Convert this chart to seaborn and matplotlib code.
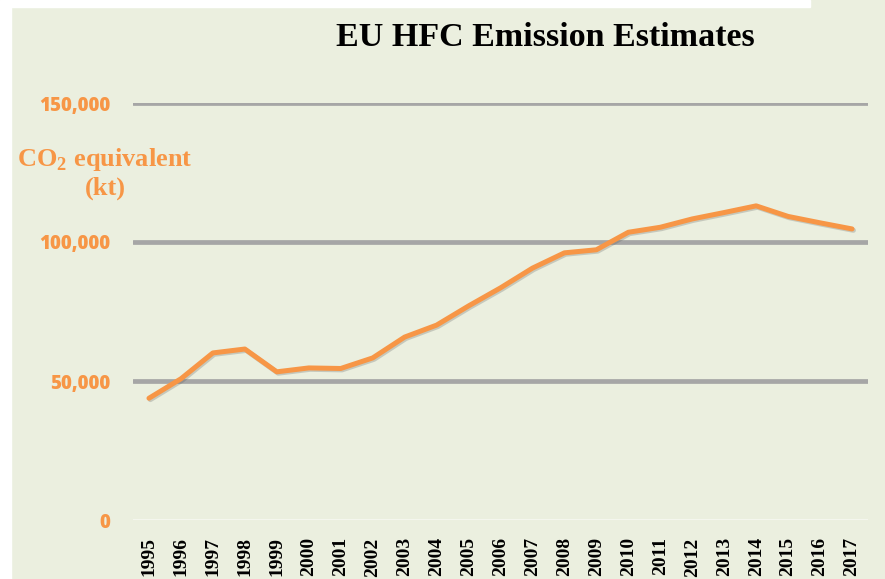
import matplotlib
matplotlib.use("Agg")
import matplotlib.pyplot as plt
import matplotlib.patheffects as pe
from matplotlib.patches import Rectangle
from matplotlib.ticker import FuncFormatter
import seaborn as sns
import pandas as pd

years = [str(y) for y in range(1995, 2018)]
emissions = [43800, 50800, 60100, 61500, 53300, 54700, 54500, 58300, 65800,
             70100, 77000, 83500, 90600, 96100, 97200, 103500, 105300, 108300,
             110600, 113000, 109200, 106900, 104700]
y_ticks = [0, 50000, 100000, 150000]

bg = "#EBEFDF"
orange = "#F79646"

df = pd.DataFrame({"year": years, "kt": emissions})

sns.set_theme(style="white")
plt.rcParams["font.family"] = ["DejaVu Sans"]

fig = plt.figure(figsize=(8.85, 5.79), dpi=100, facecolor=bg)
ax = fig.add_axes([133 / 885, 1 - 520 / 579, 735 / 885, 417 / 579])
ax.set_facecolor(bg)

# white border strips seen in the source screenshot
fig.patches.append(Rectangle((0, 0), 11 / 885, 1, transform=fig.transFigure,
                             color="white", zorder=0))
fig.patches.append(Rectangle((0, 1 - 7 / 579), 810 / 885, 7 / 579,
                             transform=fig.transFigure, color="white", zorder=0))

for v in y_ticks[1:]:
    ax.axhline(v, color="#A6A6A6", lw=3.4, zorder=1)
ax.axhline(0, color="#F4F6EE", lw=1.5, zorder=1)

sns.lineplot(data=df, x="year", y="kt", ax=ax, color=orange, lw=3.6,
             sort=False, zorder=3,
             path_effects=[pe.SimpleLineShadow(offset=(1.0, -1.0), shadow_color="#555555", alpha=0.25),
                           pe.Normal()])

ax.set_xlim(-0.5, len(years) - 0.5)
ax.set_ylim(0, 150000)
ax.set_yticks(y_ticks)
ax.yaxis.set_major_formatter(FuncFormatter(lambda v, p: f"{int(v):,}"))
for lab in ax.get_yticklabels():
    lab.set_fontfamily("Open Sans")
    lab.set_fontweight(800)
    lab.set_fontsize(13.5)
    lab.set_color(orange)
ax.tick_params(axis="y", length=0, pad=16.5)
ax.tick_params(axis="x", length=0, pad=12.5)
ax.set_xticks(range(len(years)))
ax.set_xticklabels(years, rotation=90, fontfamily="Liberation Serif",
                   fontweight="bold", fontsize=14, color="black")
ax.set_xlabel("")
ax.set_ylabel("")
sns.despine(ax=ax, left=True, bottom=True, top=True, right=True)

fig.text(545 / 885, 1 - 38 / 579, "EU HFC Emission Estimates",
         ha="center", va="center", fontfamily="Liberation Serif",
         fontweight="bold", fontsize=24.5, color="black")
fig.text(105 / 885, 1 - 173 / 579, "CO$_\\mathregular{2}$ equivalent\n(kt)",
         ha="center", va="center", fontfamily="Liberation Serif",
         fontweight="bold", fontsize=19, color=orange, linespacing=1.15)

fig.savefig("out.png", dpi=100, facecolor=bg)
